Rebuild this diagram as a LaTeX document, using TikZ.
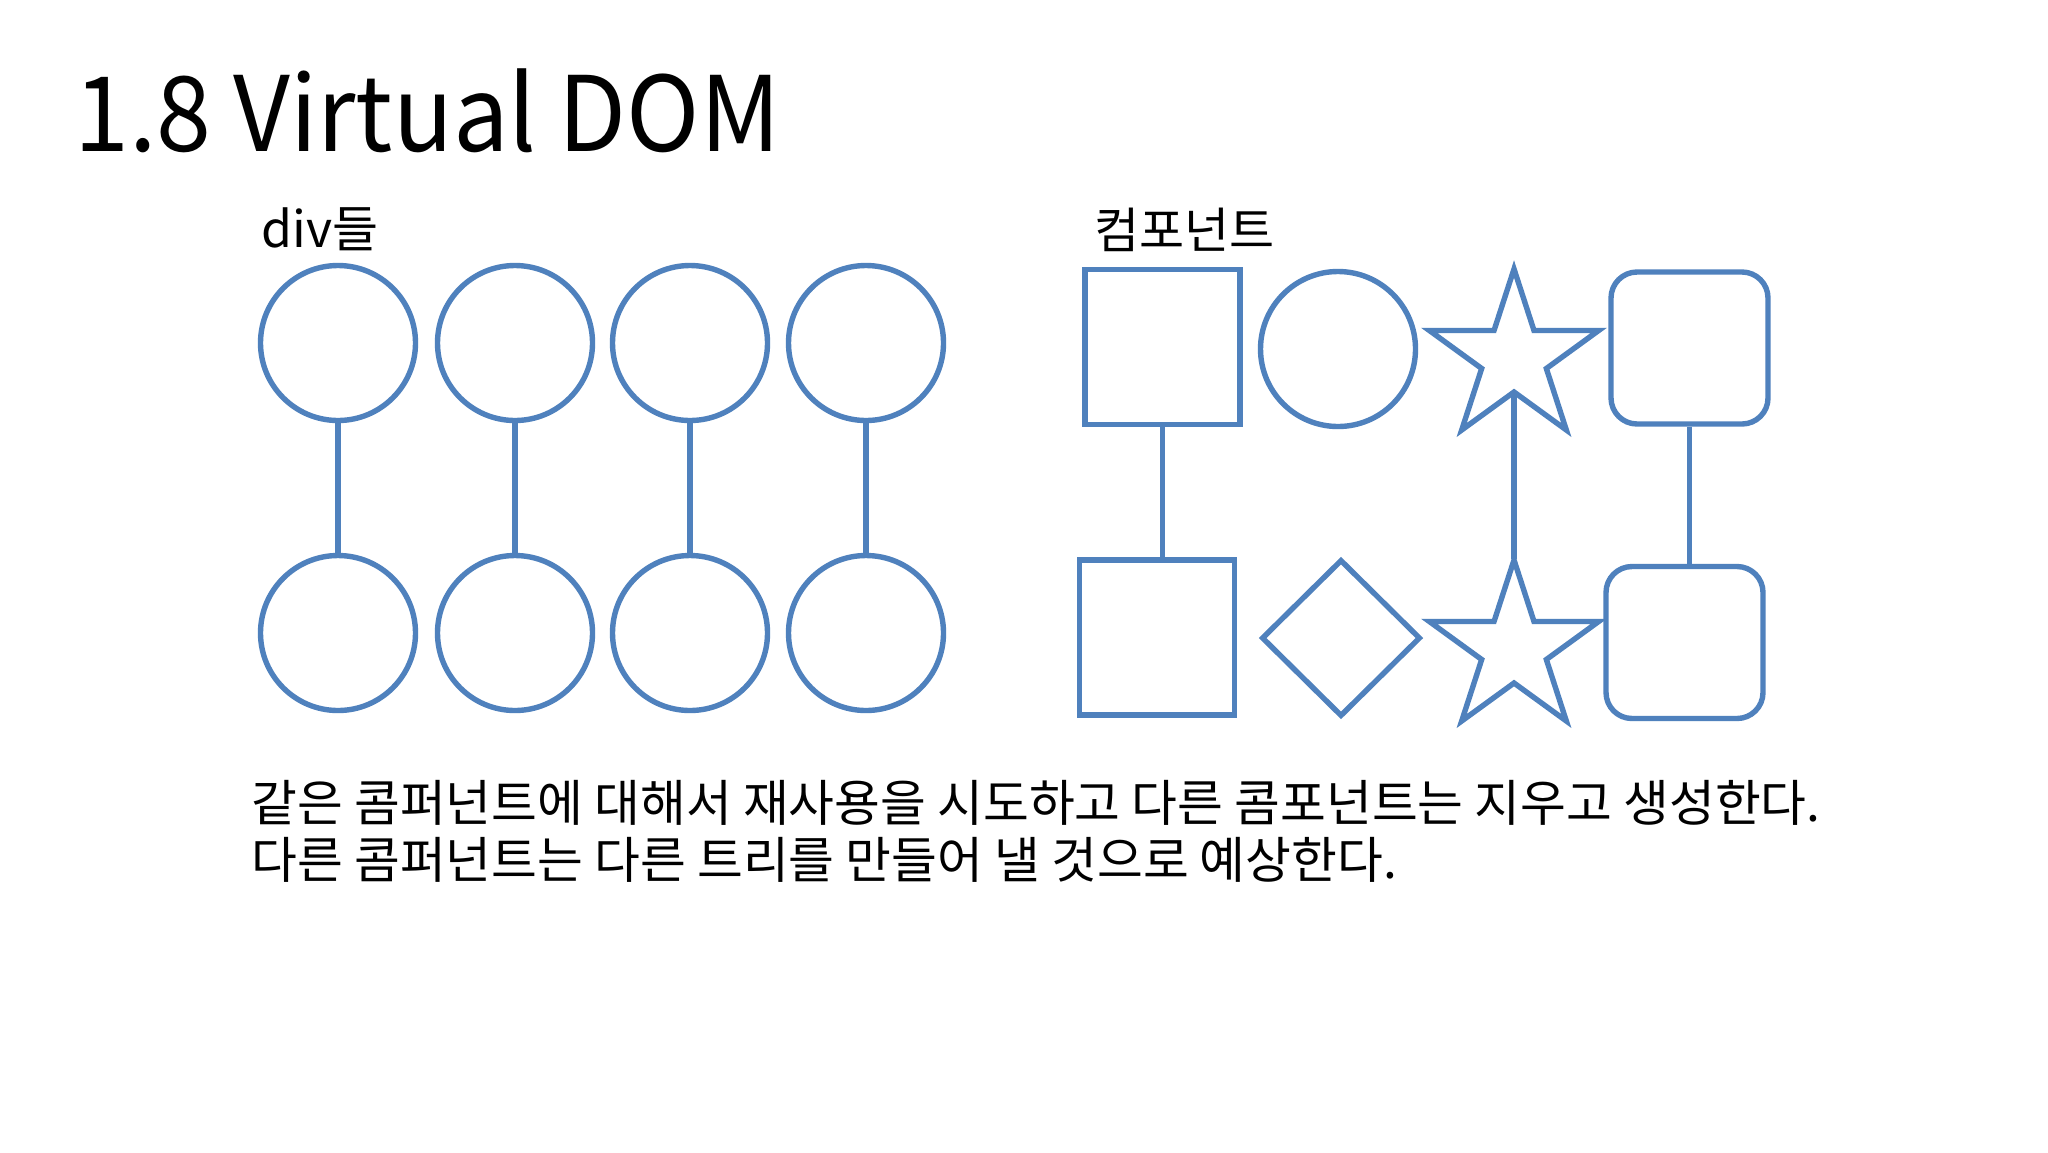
\documentclass[tikz,border=0pt]{standalone}
\usepackage{fontspec}
\setmainfont{Noto Sans CJK KR}
\usetikzlibrary{shapes.geometric}
\definecolor{shapeblue}{HTML}{4F81BD}
\begin{document}
\begin{tikzpicture}[x=0.5pt,y=-0.5pt,
  shp/.style={draw=shapeblue, line width=2.7pt, inner sep=0pt, fill=white},
  divc/.style={shp, circle, minimum size=77.5pt},
  sq/.style={shp, rectangle, minimum width=77.5pt, minimum height=77.5pt},
  rsq/.style={shp, rectangle, rounded corners=13pt, minimum width=78.5pt, minimum height=76pt},
  dia/.style={shp, diamond, minimum width=79.5pt, minimum height=78.5pt},
  starshape/.style={shp, star, star points=5, star point ratio=2.618, minimum size=89pt},
  link/.style={draw=shapeblue, line width=2.7pt},
  txt/.style={inner sep=0pt, anchor=base west, text=black}]
\fill[white] (0,0) rectangle (2048,1152);
\useasboundingbox (0,0) rectangle (2048,1152);

\node[txt, font=\fontsize{52pt}{62pt}\selectfont, xscale=0.95] (title) at (74,151) {1.8 Virtual DOM};
\node[txt, font=\fontsize{25pt}{30pt}\selectfont] (divlabel) at (261,247) {div들};
\node[txt, font=\fontsize{24.5pt}{29pt}\selectfont] (complabel) at (1094,248) {컴포넌트};

% div circles
\foreach \i/\x in {1/338,2/515,3/690,4/866}{
  \node[divc] (ct\i) at (\x,343) {};
  \node[divc] (cb\i) at (\x,633) {};
  \draw[link] (ct\i) -- (cb\i);
}

% components
\node[sq] (sqt) at (1162.5,347) {};
\node[sq] (sqb) at (1157,637.5) {};
\node[divc] (cirt) at (1338,349) {};
\node[dia] (diab) at (1341,638) {};
\node[starshape] (stt) at (1514,358) {};
\node[starshape] (stb) at (1514,649) {};
\node[rsq] (rst) at (1689.5,348) {};
\node[rsq] (rsb) at (1684.5,642.5) {};

\draw[link] (sqt.south) -- (sqt.south |- sqb.north);
\draw[link, shorten >=-4pt] (stt.inner point 3) -- (stb.outer point 1);
\draw[link] (rst.south) -- (rst.south |- rsb.north);

\node[txt, font=\fontsize{24.9pt}{28pt}\selectfont] (body1) at (251,821) {같은 콤퍼넌트에 대해서 재사용을 시도하고 다른 콤포넌트는 지우고 생성한다.};
\node[txt, font=\fontsize{24.9pt}{28pt}\selectfont] (body2) at (251,878) {다른 콤퍼넌트는 다른 트리를 만들어 낼 것으로 예상한다.};
\end{tikzpicture}
\end{document}
